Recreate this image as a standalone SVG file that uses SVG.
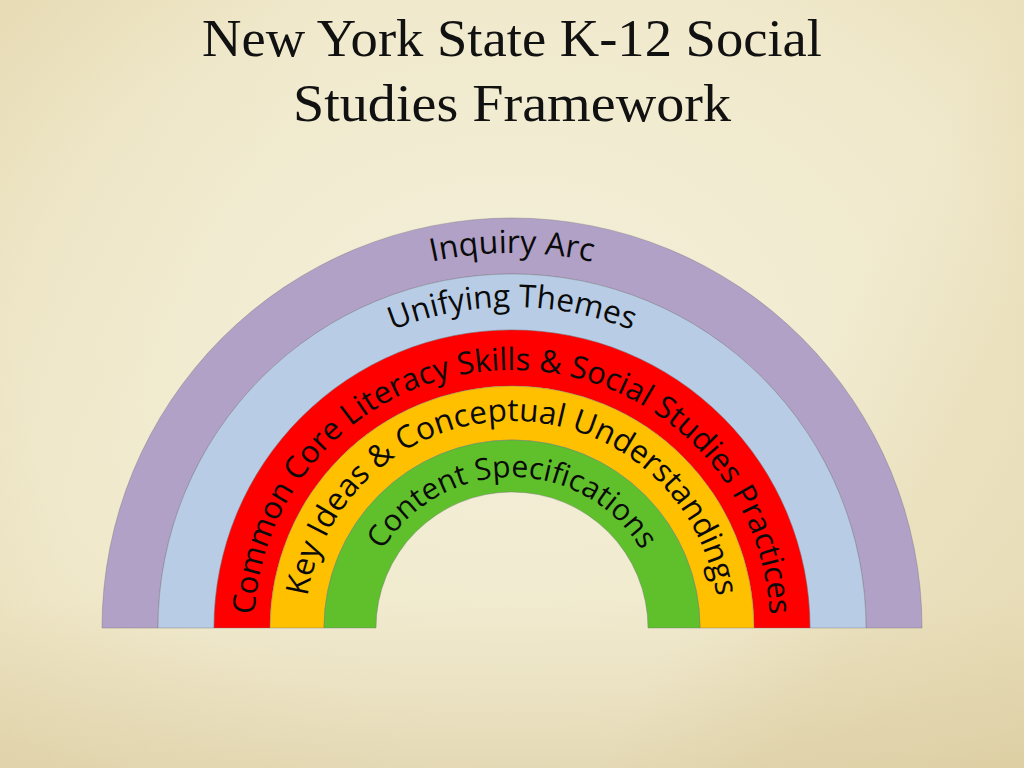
<svg xmlns="http://www.w3.org/2000/svg" width="1024" height="768" viewBox="0 0 1024 768">
  <defs>
    <radialGradient id="bg" cx="0.5" cy="0.45" r="0.8">
      <stop offset="0" stop-color="#f3efd9"/>
      <stop offset="0.6" stop-color="#f0e9cc"/>
      <stop offset="1" stop-color="#e6dab2"/>
    </radialGradient>
    <linearGradient id="shade" x1="0" y1="0" x2="1" y2="0.4">
      <stop offset="0" stop-color="#d9c896" stop-opacity="0.2"/>
      <stop offset="0.3" stop-color="#d9c896" stop-opacity="0"/>
      <stop offset="0.85" stop-color="#d9c896" stop-opacity="0"/>
      <stop offset="1" stop-color="#d9c896" stop-opacity="0.25"/>
    </linearGradient>
    <linearGradient id="bottom" x1="0" y1="0" x2="0" y2="1">
      <stop offset="0.78" stop-color="#cdb98a" stop-opacity="0"/>
      <stop offset="1" stop-color="#cdb98a" stop-opacity="0.28"/>
    </linearGradient>
    <path id="p1" d="M137 628 A375 375 0 0 1 887 628"/>
    <path id="p2" d="M191 628 A321 321 0 0 1 833 628"/>
    <path id="p3" d="M254 628 A258 258 0 0 1 770 628"/>
    <path id="p4" d="M305 628 A207 207 0 0 1 719 628"/>
    <path id="p5" d="M361 628 A151 151 0 0 1 663 628"/>
  </defs>
  <style>
    .band { stroke: #6f6f7a; stroke-width: 0.7; stroke-opacity: 0.55; }
    .lbl { font-family: "Open Sans", "Noto Sans", sans-serif; fill: #0a0a0a; }
    .title { font-family: "Liberation Serif", "DejaVu Serif", serif; font-size: 52px; fill: #111; text-anchor: middle; }
  </style>

  <rect width="1024" height="768" fill="url(#bg)"/>
  <rect width="1024" height="768" fill="url(#shade)"/>
  <rect width="1024" height="768" fill="url(#bottom)"/>

  <g id="title">
    <text class="title" x="512" y="56" textLength="620" lengthAdjust="spacingAndGlyphs">New York State K-12 Social</text>
    <text class="title" x="512" y="121" textLength="438" lengthAdjust="spacingAndGlyphs">Studies Framework</text>
  </g>

  <g id="inquiry-arc">
    <path class="band" fill="#b1a1c7" d="M102 628 A410 410 0 0 1 922 628 L866 628 A354 354 0 0 0 158 628 Z"/>
    <text class="lbl" font-size="32"><textPath href="#p1" startOffset="50%" text-anchor="middle">Inquiry Arc</textPath></text>
  </g>
  <g id="unifying-themes">
    <path class="band" fill="#b8cde5" d="M158 628 A354 354 0 0 1 866 628 L810 628 A298 298 0 0 0 214 628 Z"/>
    <text class="lbl" font-size="31.5"><textPath href="#p2" startOffset="50%" text-anchor="middle">Unifying Themes</textPath></text>
  </g>
  <g id="common-core">
    <path class="band" fill="#fe0000" d="M214 628 A298 298 0 0 1 810 628 L754 628 A242 242 0 0 0 270 628 Z"/>
    <text class="lbl" font-size="31"><textPath href="#p3" startOffset="50%" text-anchor="middle">Common Core Literacy Skills &amp; Social Studies Practices</textPath></text>
  </g>
  <g id="key-ideas">
    <path class="band" fill="#ffc000" d="M270 628 A242 242 0 0 1 754 628 L700 628 A188 188 0 0 0 324 628 Z"/>
    <text class="lbl" font-size="31.5"><textPath href="#p4" startOffset="50%" text-anchor="middle">Key Ideas &amp; Conceptual Understandings</textPath></text>
  </g>
  <g id="content-specifications">
    <path class="band" fill="#5fc02c" d="M324 628 A188 188 0 0 1 700 628 L648 628 A136 136 0 0 0 376 628 Z"/>
    <text class="lbl" font-size="30"><textPath href="#p5" startOffset="50%" text-anchor="middle">Content Specifications</textPath></text>
  </g>
</svg>
